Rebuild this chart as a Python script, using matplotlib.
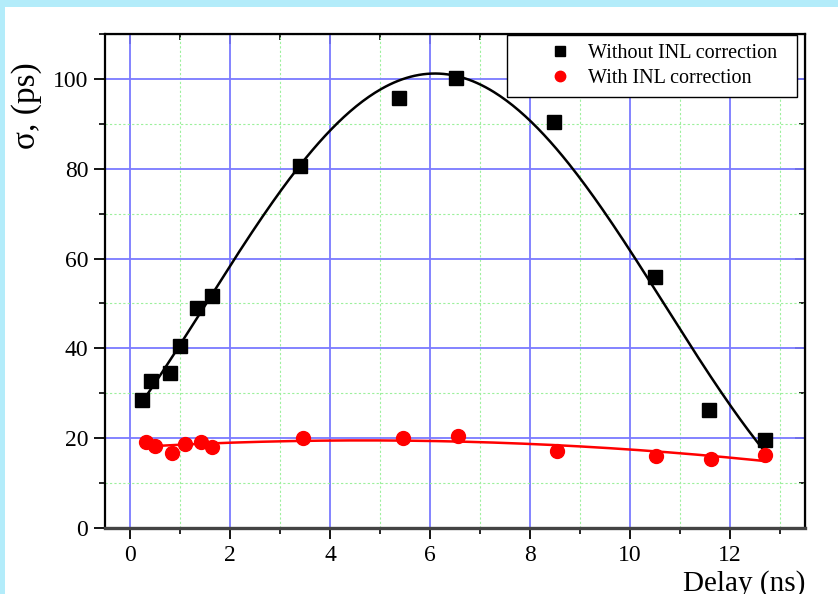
import numpy as np
import matplotlib
matplotlib.use("Agg")
import matplotlib.pyplot as plt
from matplotlib.patches import Rectangle
from matplotlib.ticker import MultipleLocator

plt.rcParams['font.family'] = ['Liberation Serif', 'DejaVu Serif']

# measured resolution vs. delay
delay_raw = [0.23, 0.42, 0.80, 1.00, 1.33, 1.63, 3.39, 5.37, 6.51, 8.48, 10.49, 11.58, 12.70]
sigma_raw = [28.6, 32.8, 34.5, 40.5, 48.9, 51.7, 80.5, 95.8, 100.2, 90.5, 56.0, 26.3, 19.6]

delay_inl = [0.32, 0.49, 0.83, 1.10, 1.41, 1.64, 3.45, 5.45, 6.56, 8.53, 10.52, 11.61, 12.69]
sigma_inl = [19.2, 18.3, 16.6, 18.7, 19.2, 18.1, 20.1, 20.0, 20.5, 17.2, 16.1, 15.3, 16.3]

label_raw = "Without INL correction"
label_inl = "With INL correction"


def cos_fit(x, y):
    # y0 + A*cos(pi*(x-xc)/w): scan xc and w, solve y0 and A by least squares
    x = np.asarray(x)
    y = np.asarray(y)
    best = None
    for xc in np.linspace(4.0, 8.0, 81):
        for w in np.linspace(6.0, 30.0, 121):
            g = np.cos(np.pi * (x - xc) / w)
            M = np.column_stack([np.ones_like(x), g])
            coef = np.linalg.lstsq(M, y, rcond=None)[0]
            r = np.sum((M @ coef - y) ** 2)
            if best is None or r < best[0]:
                best = (r, xc, w, coef)
    _, xc, w, coef = best
    return lambda t: coef[0] + coef[1] * np.cos(np.pi * (t - xc) / w)


fig = plt.figure(figsize=(8.38, 5.94), dpi=100)
fig.patch.set_facecolor('white')
# light blue frame strips along top and left edge
fig.patches.append(Rectangle((0, 1 - 7 / 594), 1, 7 / 594, transform=fig.transFigure,
                             facecolor='#b3ecfa', edgecolor='none', zorder=0))
fig.patches.append(Rectangle((0, 0), 5 / 838, 1, transform=fig.transFigure,
                             facecolor='#b3ecfa', edgecolor='none', zorder=0))

ax = fig.add_axes([105 / 838, 66 / 594, 700 / 838, 494 / 594])
ax.set_xlim(-0.5, 13.5)
ax.set_ylim(0, 110)

ax.xaxis.set_major_locator(MultipleLocator(2))
ax.xaxis.set_minor_locator(MultipleLocator(1))
ax.yaxis.set_major_locator(MultipleLocator(20))
ax.yaxis.set_minor_locator(MultipleLocator(10))

ax.set_axisbelow(True)
ax.grid(which='major', color='#7a7aff', lw=1.3)
ax.grid(which='minor', color='#9cf09c', lw=0.8, ls=(0, (2, 2)))

ax.tick_params(which='major', direction='out', length=8, width=1.3, labelsize=17, pad=4)
ax.tick_params(which='minor', direction='out', length=4, width=1.2)

# inward ticks on the top and right edges
top = ax.secondary_xaxis('top')
top.xaxis.set_major_locator(MultipleLocator(2))
top.xaxis.set_minor_locator(MultipleLocator(1))
top.tick_params(axis='x', which='major', direction='in', length=7, width=1.3, labeltop=False)
top.tick_params(axis='x', which='minor', direction='in', length=4, width=1.2)

right = ax.secondary_yaxis('right')
right.yaxis.set_major_locator(MultipleLocator(20))
right.yaxis.set_minor_locator(MultipleLocator(10))
right.tick_params(axis='y', which='major', direction='in', length=7, width=1.3, labelright=False)
right.tick_params(axis='y', which='minor', direction='in', length=4, width=1.2)

for s in ax.spines.values():
    s.set_linewidth(1.6)
ax.spines['bottom'].set_color('#444444')
ax.spines['bottom'].set_linewidth(2.4)

# fitted curves
xs = np.linspace(min(delay_raw), max(delay_raw), 300)
ax.plot(xs, cos_fit(delay_raw, sigma_raw)(xs), color='black', lw=1.8, zorder=3)
xr = np.linspace(min(delay_inl), max(delay_inl), 300)
ax.plot(xr, np.polyval(np.polyfit(delay_inl, sigma_inl, 2), xr), color='red', lw=1.8, zorder=3)

ax.plot(delay_raw, sigma_raw, 's', color='black', ms=9.5, label=label_raw, zorder=4)
ax.plot(delay_inl, sigma_inl, 'o', color='red', ms=10, label=label_inl, zorder=4)

leg = ax.legend(loc='upper right', bbox_to_anchor=(0.574, 0.885, 0.415, 0.113),
                mode='expand', fontsize=14.5,
                fancybox=False, framealpha=1, edgecolor='black', borderpad=0.45,
                handlelength=4.4, handletextpad=-0.8, labelspacing=0.3,
                markerscale=0.75, borderaxespad=0)
leg.get_frame().set_linewidth(1.0)

ax.set_ylabel("σ, (ps)", fontsize=24)
ax.yaxis.set_label_coords(-0.09, 0.856)
ax.set_xlabel("Delay (ns)", fontsize=21)
ax.xaxis.set_label_coords(1.0, -0.085)
ax.xaxis.label.set_horizontalalignment('right')

fig.savefig("out.png", dpi=100, facecolor=fig.get_facecolor())
